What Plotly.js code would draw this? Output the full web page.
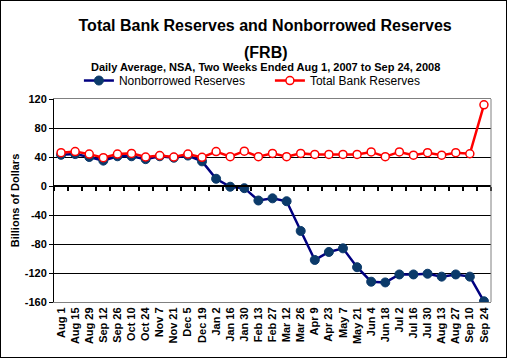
<!DOCTYPE html>
<html>
<head>
<meta charset="utf-8">
<script src="https://cdn.plot.ly/plotly-3.0.1.min.js"></script>
<style>
html,body{margin:0;padding:0;background:#fff;}
#wrap{width:507px;height:358px;box-sizing:border-box;border:1px solid #000;overflow:hidden;}
#chart{width:505px;height:356px;}
</style>
</head>
<body>
<div id="wrap"><div id="chart"></div></div>
<script>
var categories = ["Aug 1","Aug 15","Aug 29","Sep 12","Sep 26","Oct 10","Oct 24","Nov 7","Nov 21","Dec 5","Dec 19","Jan 2","Jan 16","Jan 30","Feb 13","Feb 27","Mar 12","Mar 26","Apr 9","Apr 23","May 7","May 21","Jun 4","Jun 18","Jul 2","Jul 16","Jul 30","Aug 13","Aug 27","Sep 10","Sep 24"];
var nonborrowed = [43, 44, 40, 35, 41, 41, 37, 41, 39, 42, 34, 10, -1, -3, -20, -17, -21, -62, -102, -91, -86, -112, -132, -133, -122, -122, -121, -125, -122, -125, -159];
var totalReserves = [46, 47.5, 44, 39, 44, 45, 40, 42, 40, 44, 39.5, 47.5, 40.5, 48, 40.5, 45, 40.5, 45, 43.5, 43.5, 43.5, 43.5, 47, 40.5, 47, 42.5, 46, 42.5, 46, 44.5, 112];
var yTicks = [-160, -120, -80, -40, 0, 40, 80, 120];

var FONT = "Arial, 'Liberation Sans', sans-serif";
var traces = [
  {x: categories, y: nonborrowed, name: "Nonborrowed Reserves", type: "scatter", mode: "lines+markers",
   line: {color: "#000080", width: 2.5}, marker: {symbol: "circle", size: 9, color: "#0b3a6a", line: {color: "#0b3a6a", width: 1}}},
  {x: categories, y: totalReserves, name: "Total Bank Reserves", type: "scatter", mode: "lines+markers",
   line: {color: "#ff0000", width: 2.5}, marker: {symbol: "circle", size: 8, color: "#ffffff", line: {color: "#ff0000", width: 1.5}}},
  {x: [0, categories.length - 1], y: [0, 0], xaxis: "x2", yaxis: "y", type: "scatter", mode: "none", showlegend: false, hoverinfo: "skip"}
];

var layout = {
  width: 505, height: 356,
  margin: {l: 53, r: 15, t: 98, b: 55},
  paper_bgcolor: "#fff", plot_bgcolor: "#fff",
  font: {family: FONT, color: "#000"},
  title: {text: "<b>Total Bank Reserves and Nonborrowed Reserves</b>",
          font: {size: 16, family: FONT, color: "#000"}, x: 0.523, xanchor: "center", y: 0.947, yanchor: "top", xref: "container", yref: "container"},
  annotations: [
    {text: "<b>(FRB)</b>", xref: "paper", yref: "paper", x: 0.485, y: 1.228, xanchor: "center", yanchor: "middle",
     showarrow: false, font: {size: 16, family: FONT, color: "#000"}},
    {text: "<b>Daily Average, NSA, Two Weeks Ended Aug 1, 2007 to Sep 24, 2008</b>", xref: "paper", yref: "paper",
     x: 0.483, y: 1.158, xanchor: "center", yanchor: "middle", showarrow: false, font: {size: 11, family: FONT, color: "#000"}}],
  showlegend: true,
  legend: {orientation: "h", x: 0.057, y: 1.091, xanchor: "left", yanchor: "middle", font: {size: 12, family: FONT, color: "#000"},
           bgcolor: "rgba(0,0,0,0)", entrywidth: 146, entrywidthmode: "pixels", itemwidth: 30, traceorder: "normal"},
  xaxis: {type: "category", categoryarray: categories, range: [-0.5, categories.length - 0.5],
          showline: true, linecolor: "#808080", linewidth: 1, mirror: true, ticks: "", showgrid: false, zeroline: false,
          tickangle: -90, tickfont: {size: 11, family: FONT, color: "#000", weight: "bold"}, automargin: false},
  xaxis2: {overlaying: "x", anchor: "free", position: 160 / 280, range: [-0.5, categories.length - 0.5], type: "linear",
           showline: true, linecolor: "#000", linewidth: 2, ticks: "outside", ticklen: 4, tickwidth: 2, tickcolor: "#000",
           tick0: 0.5, dtick: 1, showticklabels: false, showgrid: false, zeroline: false, side: "bottom", fixedrange: true},
  yaxis: {range: [-160, 120], tickvals: yTicks, ticktext: yTicks.map(String), showline: true, linecolor: "#000", linewidth: 1,
          ticks: "outside", ticklen: 4, tickcolor: "#000", showgrid: true, gridcolor: "#000", gridwidth: 1, zeroline: false,
          tickfont: {size: 11, family: FONT, color: "#000", weight: "bold"}, automargin: false,
          title: {text: "<b>Billions of Dollars</b>", font: {size: 11, family: FONT, color: "#000"}, standoff: 2}},
  shapes: [{type: "line", xref: "paper", yref: "paper", x0: 1, x1: 1, y0: 0, y1: 1, line: {color: "#808080", width: 1}}]
};
Plotly.newPlot("chart", traces, layout, {displayModeBar: false, staticPlot: true});
</script>
</body>
</html>
